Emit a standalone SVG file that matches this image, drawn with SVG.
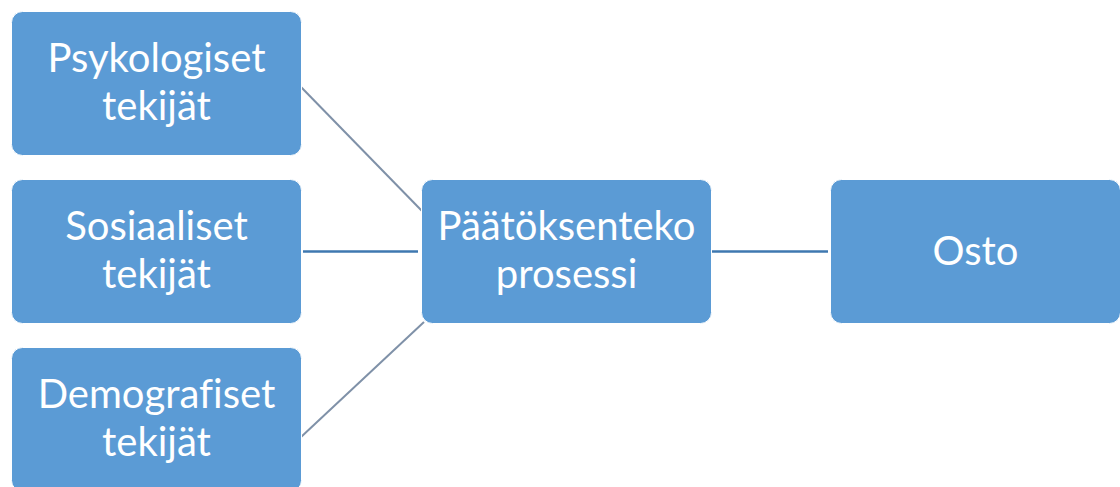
<svg xmlns="http://www.w3.org/2000/svg" width="1120" height="487" viewBox="0 0 1120 487">
<style>
.box{fill:#5B9BD5;stroke:#FFFFFF;stroke-width:1}
.t{font-family:Lato,"Open Sans","Liberation Sans",sans-serif;font-size:40px;fill:#FFFFFF;text-anchor:middle;font-variant-ligatures:none}
.g{stroke:#7F91A8;stroke-width:2;fill:none}
.b{stroke:#3F78B0;stroke-width:2.5;fill:none}
</style>
<rect width="1120" height="487" fill="#FFFFFF"/>
<g id="connectors">
<line class="g" x1="301" y1="87" x2="422" y2="211"/>
<line class="b" x1="303" y1="251.5" x2="418" y2="251.5"/>
<line class="g" x1="301" y1="437" x2="424" y2="322"/>
<line class="b" x1="712" y1="251.5" x2="828" y2="251.5"/>
</g>
<g id="psykologiset">
<rect class="box" x="11.5" y="11.5" width="290" height="144" rx="11"/>
<text class="t" x="156.5" y="72"><tspan x="156.5" y="72">Psykologiset</tspan><tspan x="156.5" y="120">tekijät</tspan></text>
</g>
<g id="sosiaaliset">
<rect class="box" x="11.5" y="179.5" width="290" height="144" rx="11"/>
<text class="t" x="156.5" y="240"><tspan x="156.5" y="240">Sosiaaliset</tspan><tspan x="156.5" y="288">tekijät</tspan></text>
</g>
<g id="demografiset">
<rect class="box" x="11.5" y="347.5" width="290" height="144" rx="11"/>
<text class="t" x="156.5" y="408"><tspan x="156.5" y="408">Demografiset</tspan><tspan x="156.5" y="456">tekijät</tspan></text>
</g>
<g id="paatoksenteko">
<rect class="box" x="421.5" y="179.5" width="290" height="144" rx="11"/>
<text class="t" x="566.5" y="240"><tspan x="566.5" y="240">Päätöksenteko</tspan><tspan x="566.5" y="288">prosessi</tspan></text>
</g>
<g id="osto">
<rect class="box" x="830.5" y="179.5" width="290" height="144" rx="11"/>
<text class="t" x="975.5" y="265">Osto</text>
</g>
</svg>
